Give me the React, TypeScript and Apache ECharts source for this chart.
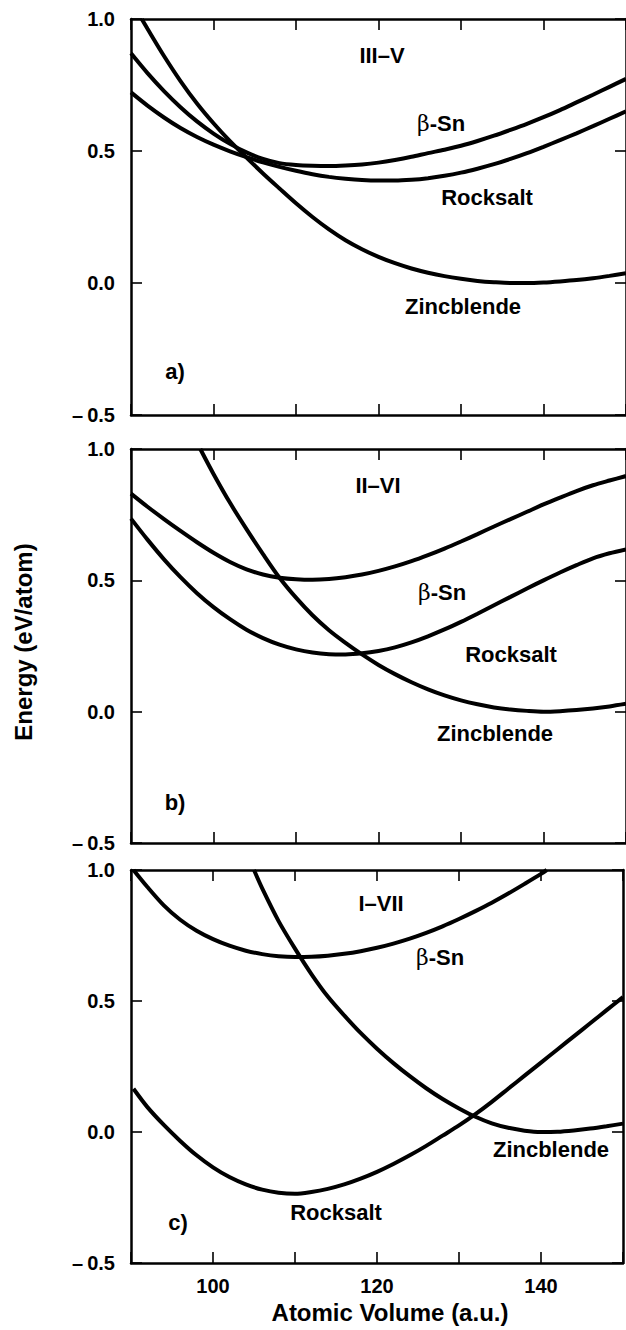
import React, { useEffect, useRef } from "react";
import * as echarts from "echarts";

// ---------- data (Atomic Volume a.u., Energy eV/atom) ----------
const xTicks = [100, 120, 140];
const yTickLabels: Record<string, string> = { "1": "1.0", "0.5": "0.5", "0": "0.0", "-0.5": "\u2013\u20090.5" };

// Panel a) III–V
const zincA = [[91.3,1.0],[92,0.963],[94,0.86],[96,0.765],[98,0.68],[100,0.605],[102,0.537],[104,0.475],[106,0.415],[108,0.358],[110,0.302],[112,0.25],[114,0.203],[116,0.162],[118,0.128],[120,0.099],[122,0.075],[124,0.055],[126,0.039],[128,0.026],[130,0.016],[132,0.008],[134,0.003],[136,0.0],[138,0.0],[140,0.002],[142,0.006],[144,0.011],[146,0.018],[148,0.027],[150,0.037]];
const snA = [[90,0.87],[92,0.795],[94,0.727],[96,0.666],[98,0.612],[100,0.566],[102,0.527],[104,0.495],[106,0.47],[108,0.454],[110,0.447],[112,0.444],[114,0.443],[116,0.445],[118,0.449],[120,0.456],[122,0.466],[124,0.478],[126,0.492],[128,0.505],[130,0.52],[132,0.538],[134,0.558],[136,0.58],[138,0.603],[140,0.628],[142,0.655],[144,0.684],[146,0.713],[148,0.743],[150,0.773]];
const rsA = [[90,0.722],[92,0.672],[94,0.627],[96,0.587],[98,0.553],[100,0.524],[102,0.499],[104,0.477],[106,0.457],[108,0.44],[110,0.425],[112,0.412],[114,0.402],[116,0.395],[118,0.39],[120,0.388],[122,0.388],[124,0.391],[126,0.397],[128,0.406],[130,0.418],[132,0.433],[134,0.45],[136,0.47],[138,0.492],[140,0.516],[142,0.541],[144,0.567],[146,0.594],[148,0.622],[150,0.65]];

// Panel b) II–VI
const zincB = [[98.4,1.0],[100,0.905],[102,0.795],[104,0.695],[106,0.6],[108,0.51],[110,0.434],[112,0.367],[114,0.31],[116,0.262],[118,0.218],[120,0.178],[122,0.143],[124,0.112],[126,0.085],[128,0.062],[130,0.043],[132,0.028],[134,0.016],[136,0.008],[138,0.003],[140,0.0],[142,0.002],[144,0.006],[146,0.012],[148,0.02],[150,0.03]];
const snB = [[90,0.83],[92,0.78],[94,0.733],[96,0.688],[98,0.645],[100,0.605],[102,0.57],[104,0.542],[106,0.522],[108,0.51],[110,0.504],[112,0.502],[114,0.505],[116,0.512],[118,0.522],[120,0.536],[122,0.553],[124,0.573],[126,0.596],[128,0.621],[130,0.648],[132,0.676],[134,0.705],[136,0.733],[138,0.761],[140,0.789],[142,0.815],[144,0.84],[146,0.862],[148,0.88],[150,0.897]];
const rsB = [[90,0.735],[92,0.655],[94,0.58],[96,0.512],[98,0.451],[100,0.398],[102,0.352],[104,0.312],[106,0.28],[108,0.255],[110,0.237],[112,0.225],[114,0.219],[116,0.218],[118,0.222],[120,0.231],[122,0.245],[124,0.264],[126,0.287],[128,0.313],[130,0.342],[132,0.373],[134,0.405],[136,0.437],[138,0.469],[140,0.5],[142,0.53],[144,0.558],[146,0.584],[148,0.603],[150,0.618]];

// Panel c) I–VII
const snC = [[90.3,1.0],[92,0.935],[94,0.865],[96,0.81],[98,0.768],[100,0.736],[102,0.711],[104,0.692],[106,0.679],[108,0.671],[110,0.668],[112,0.669],[114,0.673],[116,0.68],[118,0.69],[120,0.703],[122,0.719],[124,0.738],[126,0.76],[128,0.785],[130,0.813],[132,0.843],[134,0.875],[136,0.91],[138,0.947],[140,0.985],[140.7,1.0]];
const zincC = [[105,1.0],[106,0.93],[108,0.805],[110,0.7],[112,0.603],[114,0.517],[116,0.445],[118,0.378],[120,0.318],[122,0.263],[124,0.213],[126,0.167],[128,0.126],[130,0.09],[132,0.058],[134,0.033],[136,0.016],[138,0.005],[140,0.0],[142,0.001],[144,0.006],[146,0.013],[148,0.022],[150,0.032]];
const rsC = [[90.3,0.165],[92,0.095],[94,0.027],[96,-0.034],[98,-0.089],[100,-0.135],[102,-0.172],[104,-0.2],[106,-0.22],[108,-0.232],[110,-0.236],[112,-0.229],[114,-0.217],[116,-0.2],[118,-0.178],[120,-0.152],[122,-0.122],[124,-0.089],[126,-0.053],[128,-0.014],[130,0.025],[132,0.068],[134,0.115],[136,0.165],[138,0.215],[140,0.265],[142,0.315],[144,0.365],[146,0.415],[148,0.465],[150,0.515]];

const panels = [
  { curves: [zincA, snA, rsA], tag: "a)", group: "III\u2013V" },
  { curves: [zincB, snB, rsB], tag: "b)", group: "II\u2013VI" },
  { curves: [zincC, snC, rsC], tag: "c)", group: "I\u2013VII" },
];

const FONT = '"Liberation Sans", Arial, Helvetica, sans-serif';

// layout (pixels)
const gridTops = [19, 449, 870];
const gridHeights = [396, 394, 393];
const GRID_LEFT = 131;
const GRID_RIGHT = -4;

const annotations = [
  { t: "III\u2013V", x: 382, y: 55 },
  { t: "{b|\u03b2}-Sn", x: 441, y: 123 },
  { t: "Rocksalt", x: 487, y: 197 },
  { t: "Zincblende", x: 463, y: 306 },
  { t: "a)", x: 175, y: 371 },
  { t: "II\u2013VI", x: 378, y: 485 },
  { t: "{b|\u03b2}-Sn", x: 442, y: 592 },
  { t: "Rocksalt", x: 511, y: 654 },
  { t: "Zincblende", x: 495, y: 733 },
  { t: "b)", x: 175, y: 802 },
  { t: "I\u2013VII", x: 381, y: 903 },
  { t: "{b|\u03b2}-Sn", x: 440, y: 957 },
  { t: "Zincblende", x: 551, y: 1149 },
  { t: "Rocksalt", x: 336, y: 1212 },
  { t: "c)", x: 178, y: 1222 },
];

export default function App() {
  const ref = useRef<HTMLDivElement>(null);
  useEffect(() => {
    if (!ref.current) return;
    const chart = echarts.init(ref.current, undefined, { renderer: "svg" });

    const grids = panels.map((_, i) => ({
      left: GRID_LEFT,
      right: GRID_RIGHT,
      top: gridTops[i],
      height: gridHeights[i],
      containLabel: false,
    }));

    const axisLine = { show: true, onZero: false, lineStyle: { color: "#000", width: 2.5 } };
    const axisTick = { show: true, inside: true, length: 11, lineStyle: { color: "#000", width: 1.6 } };

    const xAxes: any[] = [];
    const yAxes: any[] = [];
    panels.forEach((_, i) => {
      xAxes.push({
        type: "value", gridIndex: i, position: "bottom", min: 90, max: 150, interval: 10,
        axisLine, axisTick, splitLine: { show: false },
        axisLabel: {
          show: i === 2, margin: 13, color: "#000", fontFamily: FONT, fontWeight: "bold", fontSize: 20,
          formatter: (v: number) => (xTicks.includes(v) ? String(v) : ""),
        },
      });
    });
    panels.forEach((_, i) => {
      xAxes.push({
        type: "value", gridIndex: i, position: "top", min: 90, max: 150, interval: 10,
        axisLine, axisTick, splitLine: { show: false }, axisLabel: { show: false },
      });
    });
    panels.forEach((_, i) => {
      yAxes.push({
        type: "value", gridIndex: i, position: "left", min: -0.5, max: 1.0, interval: 0.5,
        axisLine, axisTick, splitLine: { show: false },
        axisLabel: {
          show: true, margin: 16, color: "#000", fontFamily: FONT, fontWeight: "bold", fontSize: 20,
          formatter: (v: number) => yTickLabels[String(Math.round(v * 10) / 10)] ?? "",
        },
      });
    });
    panels.forEach((_, i) => {
      yAxes.push({
        type: "value", gridIndex: i, position: "right", min: -0.5, max: 1.0, interval: 0.5,
        axisLine, axisTick, splitLine: { show: false }, axisLabel: { show: false },
      });
    });

    const series: any[] = [];
    panels.forEach((p, i) => {
      p.curves.forEach((c) => {
        series.push({
          type: "line", xAxisIndex: i, yAxisIndex: i, data: c, showSymbol: false, symbol: "none",
          smooth: 0.3, clip: true, silent: true,
          lineStyle: { color: "#000", width: 4 },
        });
      });
    });

    const graphic: any[] = annotations.map((a) => ({
      type: "text", x: a.x, y: a.y, silent: true,
      style: {
        text: a.t, fill: "#000", font: `bold 22px ${FONT}`,
        textAlign: "center", textVerticalAlign: "middle",
        rich: { b: { fontFamily: '"DejaVu Serif", serif', fontWeight: "normal", fontSize: 22, fill: "#000" } },
      },
    }));
    graphic.push({
      type: "text", x: 390, y: 1312, silent: true,
      style: { text: "Atomic Volume (a.u.)", fill: "#000", font: `bold 24px ${FONT}`, textAlign: "center", textVerticalAlign: "middle" },
    });
    graphic.push({
      type: "text", x: 23, y: 642, rotation: Math.PI / 2, silent: true,
      style: { text: "Energy (eV/atom)", fill: "#000", font: `bold 24px ${FONT}`, textAlign: "center", textVerticalAlign: "middle" },
    });

    chart.setOption({
      animation: false,
      backgroundColor: "#fff",
      grid: grids,
      xAxis: xAxes,
      yAxis: yAxes,
      series,
      graphic,
    });
    return () => chart.dispose();
  }, []);
  return (
    <div
      ref={ref}
      style={{ position: "absolute", left: 0, top: 0, width: 626, height: 1330, overflow: "hidden", background: "#fff" }}
    />
  );
}
